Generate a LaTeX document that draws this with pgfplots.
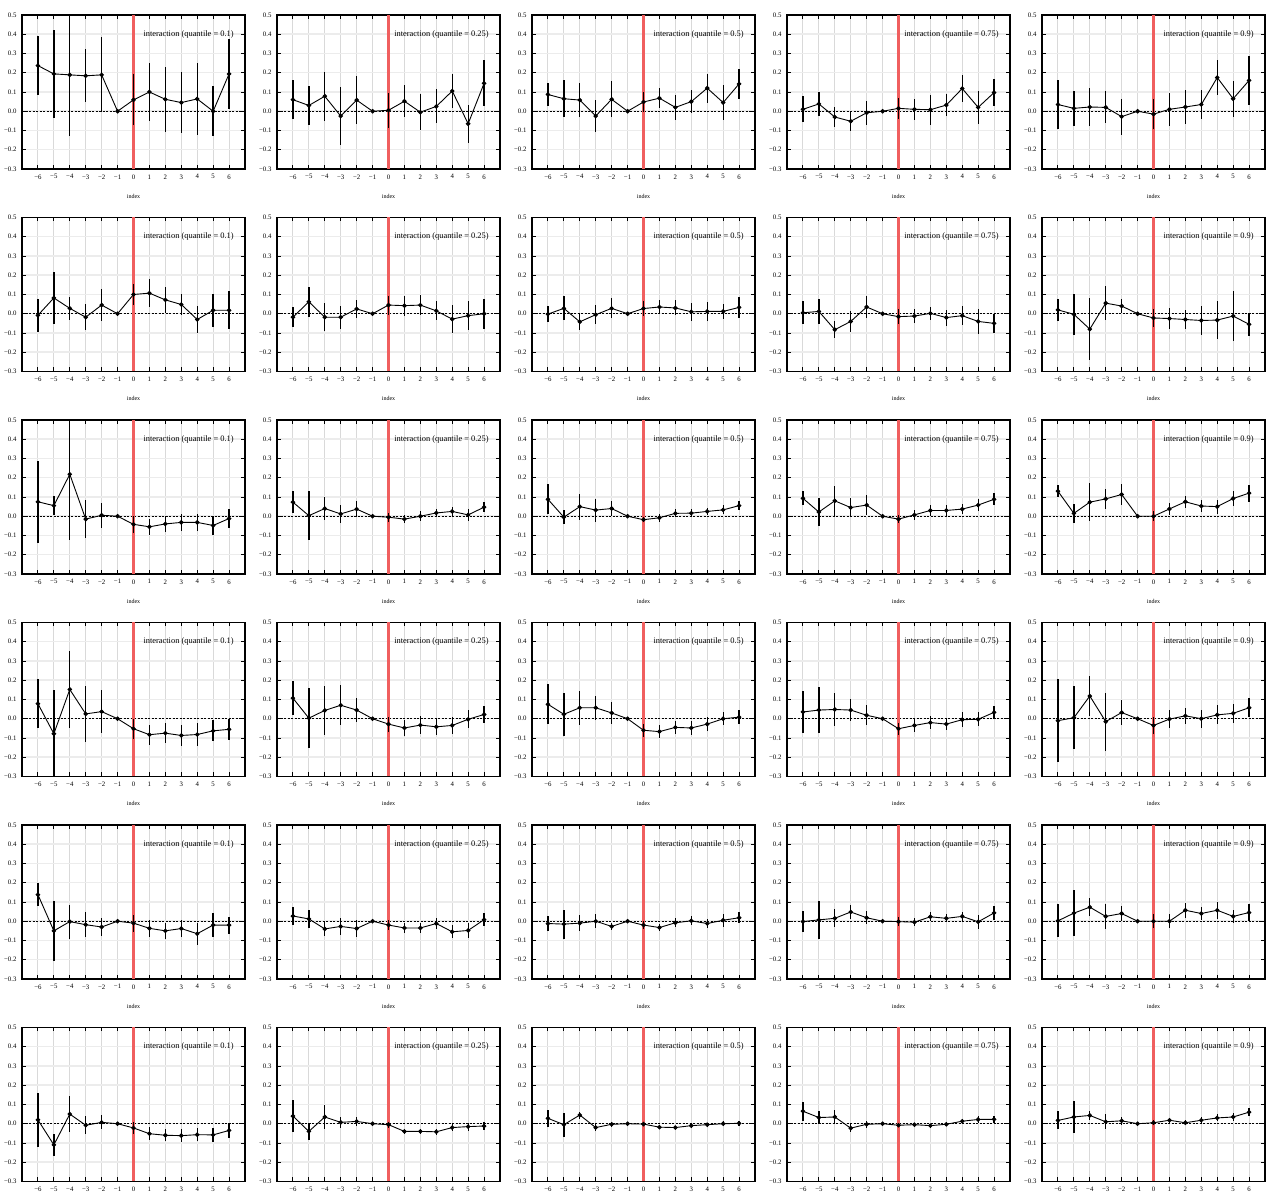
\documentclass[border=0pt]{standalone}
\usepackage{fontspec}
\setmainfont{Liberation Serif}
\usepackage{pgfplots}
\pgfplotsset{compat=1.18}
\usepgfplotslibrary{groupplots}
\definecolor{vline}{RGB}{240,95,95}

\newcommand{\panel}[2]{%
\nextgroupplot
\addplot[black, line width=0.9pt, dash pattern=on 2pt off 1.5pt, no marks, forget plot] coordinates {(-7,0) (7,0)};
\addplot[color=vline, line width=2.2pt, no marks, forget plot] coordinates {(0,-0.3) (0,0.5)};
\addplot[black, line width=0.9pt, mark=*, mark size=1.8pt, mark options={solid, fill=black},
  error bars/.cd, y dir=both, y explicit, error mark=none,
  error bar style={line width=1.3pt, color=black}] coordinates {#2};
\node[anchor=east, font=\fontsize{8.4}{10}\selectfont, inner sep=0pt, text=black] at (axis cs:6.3,0.4) {interaction (quantile = #1)};
}

\begin{document}
\begin{tikzpicture}
\begin{groupplot}[
  group style={group size=5 by 6, horizontal sep=32pt, vertical sep=48.5pt},
  width=223pt, height=154pt, scale only axis,
  xmin=-7, xmax=7, ymin=-0.3, ymax=0.5,
  xtick={-6,-5,-4,-3,-2,-1,0,1,2,3,4,5,6},
  xticklabels={−6,−5,−4,−3,−2,−1,0,1,2,3,4,5,6},
  ytick={-0.3,-0.2,-0.1,0,0.1,0.2,0.3,0.4,0.5},
  yticklabels={−0.3,−0.2,−0.1,0.0,0.1,0.2,0.3,0.4,0.5},
  tick label style={font=\fontsize{6.8}{7}\selectfont},
  xticklabel style={yshift=-2pt},
  yticklabel style={xshift=-2pt},
  major tick length=4pt,
  tick style={black, line width=0.9pt},
  axis line style={line width=1.3pt},
  grid=major,
  x grid style={gray!30, line width=0.9pt},
  y grid style={gray!15, line width=1.5pt},
  xlabel={index},
  xlabel style={font=\fontsize{6}{7}\selectfont, at={(axis description cs:0.5,0)}, anchor=center, yshift=-27pt},
]
% ---------------- row 1
\panel{0.1}{(-6,0.237)+-(0,0.152) (-5,0.194)+-(0,0.228) (-4,0.189)+-(0,0.32) (-3,0.184)+-(0,0.138) (-2,0.189)+-(0,0.195) (-1,0)+-(0,0) (0,0.059)+-(0,0.133) (1,0.1)+-(0,0.15) (2,0.062)+-(0,0.168) (3,0.045)+-(0,0.158) (4,0.064)+-(0,0.185) (5,0.0)+-(0,0.13) (6,0.194)+-(0,0.18)}
\coordinate (tl) at (rel axis cs:0,1);
\panel{0.25}{(-6,0.06)+-(0,0.1) (-5,0.03)+-(0,0.103) (-4,0.078)+-(0,0.128) (-3,-0.025)+-(0,0.15) (-2,0.058)+-(0,0.123) (-1,0)+-(0,0) (0,0.005)+-(0,0.09) (1,0.052)+-(0,0.083) (2,-0.005)+-(0,0.093) (3,0.025)+-(0,0.088) (4,0.105)+-(0,0.09) (5,-0.065)+-(0,0.098) (6,0.145)+-(0,0.12)}
\panel{0.5}{(-6,0.087)+-(0,0.062) (-5,0.065)+-(0,0.095) (-4,0.058)+-(0,0.09) (-3,-0.025)+-(0,0.085) (-2,0.062)+-(0,0.093) (-1,0)+-(0,0) (0,0.048)+-(0,0.053) (1,0.068)+-(0,0.053) (2,0.02)+-(0,0.063) (3,0.05)+-(0,0.058) (4,0.12)+-(0,0.076) (5,0.045)+-(0,0.09) (6,0.142)+-(0,0.078)}
\panel{0.75}{(-6,0.01)+-(0,0.068) (-5,0.038)+-(0,0.063) (-4,-0.03)+-(0,0.05) (-3,-0.052)+-(0,0.053) (-2,-0.008)+-(0,0.063) (-1,0)+-(0,0) (0,0.015)+-(0,0.054) (1,0.01)+-(0,0.056) (2,0.008)+-(0,0.077) (3,0.032)+-(0,0.059) (4,0.118)+-(0,0.069) (5,0.02)+-(0,0.085) (6,0.097)+-(0,0.068)}
\panel{0.9}{(-6,0.035)+-(0,0.125) (-5,0.015)+-(0,0.09) (-4,0.022)+-(0,0.098) (-3,0.02)+-(0,0.083) (-2,-0.028)+-(0,0.094) (-1,0)+-(0,0) (0,-0.015)+-(0,0.076) (1,0.01)+-(0,0.087) (2,0.022)+-(0,0.086) (3,0.035)+-(0,0.076) (4,0.175)+-(0,0.093) (5,0.065)+-(0,0.093) (6,0.16)+-(0,0.129)}
% ---------------- row 2
\panel{0.1}{(-6,-0.008)+-(0,0.085) (-5,0.082)+-(0,0.135) (-4,0.028)+-(0,0.06) (-3,-0.018)+-(0,0.067) (-2,0.045)+-(0,0.085) (-1,0)+-(0,0) (0,0.1)+-(0,0.054) (1,0.107)+-(0,0.072) (2,0.072)+-(0,0.069) (3,0.048)+-(0,0.057) (4,-0.03)+-(0,0.071) (5,0.018)+-(0,0.087) (6,0.018)+-(0,0.099)}
\panel{0.25}{(-6,-0.018)+-(0,0.053) (-5,0.062)+-(0,0.078) (-4,-0.018)+-(0,0.072) (-3,-0.018)+-(0,0.059) (-2,0.025)+-(0,0.047) (-1,0)+-(0,0) (0,0.045)+-(0,0.049) (1,0.042)+-(0,0.052) (2,0.045)+-(0,0.054) (3,0.015)+-(0,0.05) (4,-0.028)+-(0,0.073) (5,-0.01)+-(0,0.074) (6,0.0)+-(0,0.078)}
\panel{0.5}{(-6,-0.002)+-(0,0.043) (-5,0.028)+-(0,0.063) (-4,-0.042)+-(0,0.043) (-3,-0.005)+-(0,0.048) (-2,0.028)+-(0,0.052) (-1,0)+-(0,0) (0,0.027)+-(0,0.037) (1,0.035)+-(0,0.036) (2,0.03)+-(0,0.039) (3,0.01)+-(0,0.048) (4,0.012)+-(0,0.048) (5,0.012)+-(0,0.038) (6,0.033)+-(0,0.053)}
\panel{0.75}{(-6,0.005)+-(0,0.06) (-5,0.012)+-(0,0.063) (-4,-0.083)+-(0,0.043) (-3,-0.04)+-(0,0.054) (-2,0.035)+-(0,0.059) (-1,0)+-(0,0) (0,-0.015)+-(0,0.039) (1,-0.012)+-(0,0.035) (2,0.002)+-(0,0.034) (3,-0.02)+-(0,0.042) (4,-0.01)+-(0,0.049) (5,-0.04)+-(0,0.064) (6,-0.05)+-(0,0.048)}
\panel{0.9}{(-6,0.02)+-(0,0.057) (-5,-0.003)+-(0,0.105) (-4,-0.08)+-(0,0.162) (-3,0.055)+-(0,0.087) (-2,0.04)+-(0,0.036) (-1,0)+-(0,0) (0,-0.022)+-(0,0.046) (1,-0.025)+-(0,0.053) (2,-0.03)+-(0,0.049) (3,-0.035)+-(0,0.074) (4,-0.033)+-(0,0.1) (5,-0.012)+-(0,0.128) (6,-0.055)+-(0,0.06)}
% ---------------- row 3
\panel{0.1}{(-6,0.075)+-(0,0.214) (-5,0.055)+-(0,0.05) (-4,0.218)+-(0,0.34) (-3,-0.015)+-(0,0.098) (-2,0.005)+-(0,0.064) (-1,0)+-(0,0) (0,-0.042)+-(0,0.043) (1,-0.055)+-(0,0.04) (2,-0.04)+-(0,0.041) (3,-0.032)+-(0,0.043) (4,-0.032)+-(0,0.045) (5,-0.048)+-(0,0.049) (6,-0.012)+-(0,0.047)}
\panel{0.25}{(-6,0.073)+-(0,0.058) (-5,0.003)+-(0,0.126) (-4,0.04)+-(0,0.058) (-3,0.012)+-(0,0.048) (-2,0.037)+-(0,0.043) (-1,0)+-(0,0) (0,-0.005)+-(0,0.024) (1,-0.015)+-(0,0.022) (2,0.0)+-(0,0.025) (3,0.017)+-(0,0.022) (4,0.025)+-(0,0.025) (5,0.007)+-(0,0.031) (6,0.047)+-(0,0.025)}
\panel{0.5}{(-6,0.088)+-(0,0.077) (-5,-0.005)+-(0,0.037) (-4,0.05)+-(0,0.067) (-3,0.032)+-(0,0.06) (-2,0.04)+-(0,0.041) (-1,0)+-(0,0) (0,-0.018)+-(0,0.013) (1,-0.008)+-(0,0.022) (2,0.015)+-(0,0.021) (3,0.016)+-(0,0.02) (4,0.025)+-(0,0.02) (5,0.033)+-(0,0.023) (6,0.055)+-(0,0.023)}
\panel{0.75}{(-6,0.093)+-(0,0.036) (-5,0.022)+-(0,0.073) (-4,0.08)+-(0,0.079) (-3,0.045)+-(0,0.048) (-2,0.058)+-(0,0.051) (-1,0)+-(0,0) (0,-0.015)+-(0,0.022) (1,0.007)+-(0,0.027) (2,0.03)+-(0,0.027) (3,0.03)+-(0,0.027) (4,0.037)+-(0,0.028) (5,0.058)+-(0,0.032) (6,0.088)+-(0,0.031)}
\panel{0.9}{(-6,0.13)+-(0,0.031) (-5,0.015)+-(0,0.048) (-4,0.073)+-(0,0.1) (-3,0.09)+-(0,0.052) (-2,0.113)+-(0,0.055) (-1,0)+-(0,0) (0,0.0)+-(0,0.025) (1,0.038)+-(0,0.03) (2,0.075)+-(0,0.03) (3,0.053)+-(0,0.031) (4,0.05)+-(0,0.036) (5,0.092)+-(0,0.038) (6,0.12)+-(0,0.044)}
% ---------------- row 4
\panel{0.1}{(-6,0.078)+-(0,0.127) (-5,-0.078)+-(0,0.226) (-4,0.152)+-(0,0.2) (-3,0.025)+-(0,0.145) (-2,0.037)+-(0,0.112) (-1,0)+-(0,0) (0,-0.052)+-(0,0.053) (1,-0.083)+-(0,0.051) (2,-0.075)+-(0,0.053) (3,-0.087)+-(0,0.054) (4,-0.082)+-(0,0.059) (5,-0.063)+-(0,0.055) (6,-0.055)+-(0,0.056)}
\panel{0.25}{(-6,0.107)+-(0,0.088) (-5,0.003)+-(0,0.155) (-4,0.043)+-(0,0.128) (-3,0.07)+-(0,0.105) (-2,0.045)+-(0,0.062) (-1,0)+-(0,0) (0,-0.028)+-(0,0.039) (1,-0.048)+-(0,0.04) (2,-0.033)+-(0,0.045) (3,-0.042)+-(0,0.041) (4,-0.035)+-(0,0.043) (5,-0.003)+-(0,0.046) (6,0.022)+-(0,0.044)}
\panel{0.5}{(-6,0.075)+-(0,0.104) (-5,0.023)+-(0,0.112) (-4,0.057)+-(0,0.088) (-3,0.057)+-(0,0.062) (-2,0.03)+-(0,0.055) (-1,0)+-(0,0) (0,-0.06)+-(0,0.033) (1,-0.067)+-(0,0.033) (2,-0.045)+-(0,0.035) (3,-0.048)+-(0,0.035) (4,-0.028)+-(0,0.037) (5,0.0)+-(0,0.035) (6,0.008)+-(0,0.036)}
\panel{0.75}{(-6,0.035)+-(0,0.109) (-5,0.045)+-(0,0.119) (-4,0.048)+-(0,0.085) (-3,0.045)+-(0,0.059) (-2,0.018)+-(0,0.053) (-1,0)+-(0,0) (0,-0.052)+-(0,0.031) (1,-0.035)+-(0,0.034) (2,-0.02)+-(0,0.032) (3,-0.028)+-(0,0.033) (4,-0.005)+-(0,0.038) (5,-0.003)+-(0,0.037) (6,0.033)+-(0,0.034)}
\panel{0.9}{(-6,-0.01)+-(0,0.217) (-5,0.005)+-(0,0.163) (-4,0.118)+-(0,0.103) (-3,-0.015)+-(0,0.151) (-2,0.032)+-(0,0.064) (-1,0)+-(0,0) (0,-0.035)+-(0,0.042) (1,-0.002)+-(0,0.045) (2,0.015)+-(0,0.043) (3,0.0)+-(0,0.047) (4,0.02)+-(0,0.049) (5,0.028)+-(0,0.049) (6,0.057)+-(0,0.049)}
% ---------------- row 5
\panel{0.1}{(-6,0.138)+-(0,0.058) (-5,-0.05)+-(0,0.155) (-4,-0.002)+-(0,0.088) (-3,-0.018)+-(0,0.065) (-2,-0.03)+-(0,0.045) (-1,0)+-(0,0) (0,-0.01)+-(0,0.044) (1,-0.037)+-(0,0.043) (2,-0.05)+-(0,0.042) (3,-0.038)+-(0,0.045) (4,-0.065)+-(0,0.057) (5,-0.02)+-(0,0.061) (6,-0.02)+-(0,0.044)}
\panel{0.25}{(-6,0.027)+-(0,0.045) (-5,0.012)+-(0,0.048) (-4,-0.04)+-(0,0.035) (-3,-0.027)+-(0,0.044) (-2,-0.038)+-(0,0.042) (-1,0)+-(0,0) (0,-0.02)+-(0,0.024) (1,-0.035)+-(0,0.025) (2,-0.035)+-(0,0.027) (3,-0.012)+-(0,0.029) (4,-0.055)+-(0,0.034) (5,-0.048)+-(0,0.037) (6,0.008)+-(0,0.034)}
\panel{0.5}{(-6,-0.012)+-(0,0.039) (-5,-0.015)+-(0,0.075) (-4,-0.01)+-(0,0.042) (-3,0.0)+-(0,0.035) (-2,-0.027)+-(0,0.019) (-1,0)+-(0,0) (0,-0.02)+-(0,0.02) (1,-0.033)+-(0,0.02) (2,-0.008)+-(0,0.024) (3,0.002)+-(0,0.023) (4,-0.012)+-(0,0.025) (5,0.005)+-(0,0.035) (6,0.018)+-(0,0.028)}
\panel{0.75}{(-6,-0.002)+-(0,0.053) (-5,0.007)+-(0,0.097) (-4,0.015)+-(0,0.046) (-3,0.048)+-(0,0.038) (-2,0.018)+-(0,0.034) (-1,0)+-(0,0) (0,-0.002)+-(0,0.022) (1,-0.005)+-(0,0.022) (2,0.023)+-(0,0.024) (3,0.015)+-(0,0.021) (4,0.025)+-(0,0.024) (5,-0.003)+-(0,0.037) (6,0.043)+-(0,0.035)}
\panel{0.9}{(-6,0.002)+-(0,0.086) (-5,0.042)+-(0,0.121) (-4,0.073)+-(0,0.046) (-3,0.025)+-(0,0.064) (-2,0.04)+-(0,0.041) (-1,0)+-(0,0) (0,0.0)+-(0,0.035) (1,0.0)+-(0,0.035) (2,0.057)+-(0,0.04) (3,0.04)+-(0,0.036) (4,0.057)+-(0,0.043) (5,0.025)+-(0,0.035) (6,0.045)+-(0,0.042)}
% ---------------- row 6
\panel{0.1}{(-6,0.02)+-(0,0.14) (-5,-0.11)+-(0,0.058) (-4,0.05)+-(0,0.092) (-3,-0.008)+-(0,0.047) (-2,0.007)+-(0,0.037) (-1,0)+-(0,0) (0,-0.022)+-(0,0.033) (1,-0.052)+-(0,0.033) (2,-0.06)+-(0,0.032) (3,-0.062)+-(0,0.033) (4,-0.057)+-(0,0.034) (5,-0.058)+-(0,0.035) (6,-0.035)+-(0,0.037)}
\panel{0.25}{(-6,0.04)+-(0,0.081) (-5,-0.04)+-(0,0.043) (-4,0.035)+-(0,0.06) (-3,0.007)+-(0,0.03) (-2,0.012)+-(0,0.023) (-1,0)+-(0,0) (0,-0.005)+-(0,0.015) (1,-0.04)+-(0,0.015) (2,-0.04)+-(0,0.015) (3,-0.042)+-(0,0.017) (4,-0.02)+-(0,0.016) (5,-0.015)+-(0,0.021) (6,-0.012)+-(0,0.021)}
\panel{0.5}{(-6,0.028)+-(0,0.043) (-5,-0.005)+-(0,0.063) (-4,0.045)+-(0,0.018) (-3,-0.02)+-(0,0.017) (-2,-0.003)+-(0,0.012) (-1,0)+-(0,0) (0,-0.002)+-(0,0.01) (1,-0.018)+-(0,0.01) (2,-0.02)+-(0,0.01) (3,-0.01)+-(0,0.01) (4,-0.005)+-(0,0.011) (5,0.0)+-(0,0.013) (6,0.002)+-(0,0.014)}
\panel{0.75}{(-6,0.065)+-(0,0.05) (-5,0.032)+-(0,0.032) (-4,0.035)+-(0,0.034) (-3,-0.023)+-(0,0.019) (-2,-0.003)+-(0,0.018) (-1,0)+-(0,0) (0,-0.008)+-(0,0.01) (1,-0.005)+-(0,0.01) (2,-0.01)+-(0,0.01) (3,-0.003)+-(0,0.011) (4,0.013)+-(0,0.014) (5,0.022)+-(0,0.018) (6,0.023)+-(0,0.018)}
\panel{0.9}{(-6,0.017)+-(0,0.047) (-5,0.035)+-(0,0.085) (-4,0.043)+-(0,0.025) (-3,0.01)+-(0,0.04) (-2,0.015)+-(0,0.02) (-1,0)+-(0,0) (0,0.005)+-(0,0.013) (1,0.018)+-(0,0.014) (2,0.005)+-(0,0.013) (3,0.018)+-(0,0.016) (4,0.03)+-(0,0.018) (5,0.035)+-(0,0.022) (6,0.06)+-(0,0.02)}
\end{groupplot}
\pgfresetboundingbox
\path[use as bounding box] ([xshift=-22pt,yshift=15pt]tl) rectangle ([xshift=1244pt,yshift=-1183pt]tl);
\end{tikzpicture}
\end{document}
